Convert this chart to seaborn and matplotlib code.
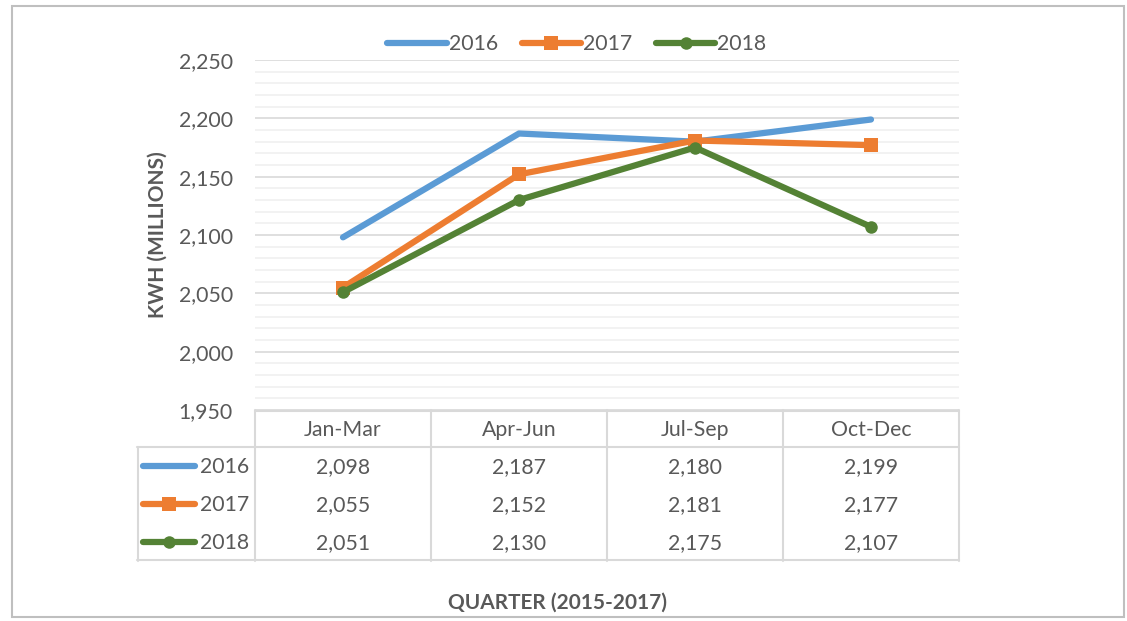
import matplotlib
matplotlib.use("Agg")
import matplotlib.pyplot as plt
import seaborn as sns
import pandas as pd
from matplotlib.lines import Line2D
from matplotlib.patches import Rectangle
from matplotlib.ticker import MultipleLocator, FuncFormatter

quarters = ["Jan-Mar", "Apr-Jun", "Jul-Sep", "Oct-Dec"]
years = ["2016", "2017", "2018"]
v2016 = [2098, 2187, 2180, 2199]
v2017 = [2055, 2152, 2181, 2177]
v2018 = [2051, 2130, 2175, 2107]
series = {"2016": v2016, "2017": v2017, "2018": v2018}

colors = {"2016": "#5B9BD5", "2017": "#ED7D31", "2018": "#548235"}
markers = {"2016": None, "2017": "s", "2018": "o"}
msize = {"2016": 0, "2017": 9.5, "2018": 9}

sns.set_theme(style="white")
plt.rcParams["font.family"] = ["Lato", "DejaVu Sans"]
TXT = "#595959"
FS = 15.3

W, H = 1127, 621
fig = plt.figure(figsize=(W / 100, H / 100), dpi=100)
fig.patch.set_facecolor("white")

def px(l, t, r, b):
    return [l / W, 1 - b / H, (r - l) / W, (b - t) / H]

# outer frame
fig.add_artist(Rectangle((12 / W, 1 - 617 / H), (1124 - 12) / W, (617 - 6) / H,
                         transform=fig.transFigure, fill=False, ec="#BFBFBF", lw=1.5))

ax = fig.add_axes(px(255, 60, 959, 410))
rows = []
for y in years:
    for q, v in zip(quarters, series[y]):
        rows.append({"quarter": q, "year": y, "value": v})
df = pd.DataFrame(rows)

for y in years:
    d = df[df["year"] == y]
    sns.lineplot(data=d, x="quarter", y="value", ax=ax, color=colors[y],
                 lw=4.5, marker=markers[y], markersize=msize[y],
                 markeredgewidth=0, solid_capstyle="round", label=y, legend=False)

ax.set_xlim(-0.5, 3.5)
ax.set_ylim(1950, 2250)
ax.yaxis.set_major_locator(MultipleLocator(50))
ax.yaxis.set_minor_locator(MultipleLocator(10))
ax.yaxis.set_major_formatter(FuncFormatter(lambda v, p: f"{int(v):,}"))
ax.grid(axis="y", which="major", color="#D9D9D9", lw=1.2)
ax.grid(axis="y", which="minor", color="#F0F0F0", lw=1.2)
ax.set_axisbelow(True)
for s in ax.spines.values():
    s.set_visible(False)
ax.tick_params(axis="y", which="both", length=0, labelsize=FS, labelcolor=TXT, pad=16)
ax.tick_params(axis="x", length=0, labelbottom=False)
ax.set_xlabel("")
ax.set_ylabel("")

# legend
handles = [Line2D([], [], color=colors[y], lw=4.5, marker=markers[y],
                  markersize=msize[y], markeredgewidth=0, solid_capstyle="round")
           for y in years]
fig.legend(handles, years, loc="center", bbox_to_anchor=(577 / W, 1 - 44 / H),
           ncol=3, frameon=False, fontsize=FS, labelcolor=TXT,
           handlelength=2.8, handletextpad=0.1, columnspacing=1.1)

# data table
tl, tt, tr, tb = 137, 410, 959, 561
at = fig.add_axes(px(tl, tt, tr, tb))
at.set_xlim(tl, tr)
at.set_ylim(tb, tt)
at.axis("off")
lc = "#D9D9D9"
col_x = [255 + i * 176 for i in range(5)]
hdr_b = 447
row_h = (tb - hdr_b) / 3
at.plot([col_x[0], col_x[-1]], [tt + 1, tt + 1], color=lc, lw=1.5, clip_on=False)
at.plot([tl, col_x[-1]], [hdr_b, hdr_b], color=lc, lw=1.5, clip_on=False)
at.plot([tl, col_x[-1]], [tb - 1, tb - 1], color=lc, lw=1.5, clip_on=False)
at.plot([tl + 1, tl + 1], [hdr_b, tb], color=lc, lw=1.5, clip_on=False)
for x in col_x:
    at.plot([x, x], [tt, tb], color=lc, lw=1.5, clip_on=False)

for i, q in enumerate(quarters):
    cx = (col_x[i] + col_x[i + 1]) / 2
    at.text(cx, (tt + hdr_b) / 2 + 1, q, ha="center", va="center", fontsize=FS, color=TXT)
for r, y in enumerate(years):
    cy = hdr_b + row_h * (r + 0.5)
    at.plot([143, 169, 195], [cy, cy, cy], color=colors[y], lw=4.5, marker=markers[y],
            markersize=msize[y], markeredgewidth=0, solid_capstyle="round",
            markevery=[1], clip_on=False)
    at.text(200, cy + 1, y, ha="left", va="center", fontsize=FS, color=TXT)
    for i, v in enumerate(series[y]):
        cx = (col_x[i] + col_x[i + 1]) / 2
        at.text(cx, cy + 1, f"{v:,}", ha="center", va="center", fontsize=FS, color=TXT)

fig.text(158 / W, 1 - 235 / H, "KWH (MILLIONS)", rotation=90, ha="center", va="center",
         fontsize=15, fontweight="bold", color=TXT)
fig.text(557 / W, 1 - 603 / H, "QUARTER (2015-2017)", ha="center", va="center",
         fontsize=15, fontweight="bold", color=TXT)

fig.savefig("out.png", dpi=100)
